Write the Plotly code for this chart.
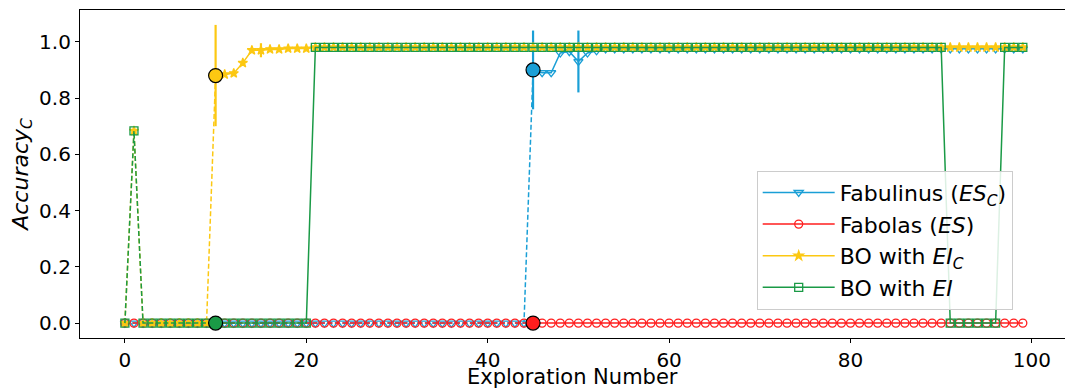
import plotly.graph_objects as go

# Exploration steps
exploration = list(range(100))

# Accuracy_C per exploration step
fabulinus = [
    0.0, 0.0, 0.0, 0.0, 0.0, 0.0, 0.0, 0.0, 0.0, 0.0,
    0.0, 0.0, 0.0, 0.0, 0.0, 0.0, 0.0, 0.0, 0.0, 0.0,
    0.0, 0.0, 0.0, 0.0, 0.0, 0.0, 0.0, 0.0, 0.0, 0.0,
    0.0, 0.0, 0.0, 0.0, 0.0, 0.0, 0.0, 0.0, 0.0, 0.0,
    0.0, 0.0, 0.0, 0.0, 0.0, 0.90, 0.89, 0.89, 0.96, 0.965,
    0.93, 0.96, 0.968, 0.975, 0.975, 0.975, 0.975, 0.975, 0.975, 0.975,
    0.975, 0.975, 0.975, 0.975, 0.975, 0.975, 0.975, 0.975, 0.975, 0.975,
    0.975, 0.975, 0.975, 0.975, 0.975, 0.975, 0.975, 0.975, 0.975, 0.975,
    0.975, 0.975, 0.975, 0.975, 0.975, 0.975, 0.975, 0.975, 0.975, 0.975,
    0.975, 0.975, 0.975, 0.975, 0.975, 0.975, 0.975, 0.975, 0.975, 0.975,
]
fabulinus_err = [0.0] * 45 + [0.14, 0.0, 0.0, 0.0, 0.0, 0.11] + [0.0] * 49

fabolas = [
    0.0, 0.0, 0.0, 0.0, 0.0, 0.0, 0.0, 0.0, 0.0, 0.0,
    0.0, 0.0, 0.0, 0.0, 0.0, 0.0, 0.0, 0.0, 0.0, 0.0,
    0.0, 0.0, 0.0, 0.0, 0.0, 0.0, 0.0, 0.0, 0.0, 0.0,
    0.0, 0.0, 0.0, 0.0, 0.0, 0.0, 0.0, 0.0, 0.0, 0.0,
    0.0, 0.0, 0.0, 0.0, 0.0, 0.0, 0.0, 0.0, 0.0, 0.0,
    0.0, 0.0, 0.0, 0.0, 0.0, 0.0, 0.0, 0.0, 0.0, 0.0,
    0.0, 0.0, 0.0, 0.0, 0.0, 0.0, 0.0, 0.0, 0.0, 0.0,
    0.0, 0.0, 0.0, 0.0, 0.0, 0.0, 0.0, 0.0, 0.0, 0.0,
    0.0, 0.0, 0.0, 0.0, 0.0, 0.0, 0.0, 0.0, 0.0, 0.0,
    0.0, 0.0, 0.0, 0.0, 0.0, 0.0, 0.0, 0.0, 0.0, 0.0,
]
fabolas_err = [0.0] * 100

bo_eic = [
    0.0, 0.683, 0.0, 0.0, 0.0, 0.0, 0.0, 0.0, 0.0, 0.0,
    0.88, 0.884, 0.888, 0.925, 0.97, 0.97, 0.973, 0.973, 0.976, 0.976,
    0.976, 0.98, 0.98, 0.98, 0.98, 0.98, 0.98, 0.98, 0.98, 0.98,
    0.98, 0.98, 0.98, 0.98, 0.98, 0.98, 0.98, 0.98, 0.98, 0.98,
    0.98, 0.98, 0.98, 0.98, 0.98, 0.98, 0.98, 0.98, 0.98, 0.98,
    0.98, 0.98, 0.98, 0.98, 0.98, 0.98, 0.98, 0.98, 0.98, 0.98,
    0.98, 0.98, 0.98, 0.98, 0.98, 0.98, 0.98, 0.98, 0.98, 0.98,
    0.98, 0.98, 0.98, 0.98, 0.98, 0.98, 0.98, 0.98, 0.98, 0.98,
    0.98, 0.98, 0.98, 0.98, 0.98, 0.98, 0.98, 0.98, 0.98, 0.98,
    0.98, 0.98, 0.98, 0.98, 0.98, 0.98, 0.98, 0.98, 0.98, 0.98,
]
bo_eic_err = [0.0] * 10 + [0.18, 0.0, 0.0, 0.0, 0.0, 0.025] + [0.0] * 84

bo_ei = [
    0.0, 0.683, 0.0, 0.0, 0.0, 0.0, 0.0, 0.0, 0.0, 0.0,
    0.0, 0.0, 0.0, 0.0, 0.0, 0.0, 0.0, 0.0, 0.0, 0.0,
    0.0, 0.98, 0.98, 0.98, 0.98, 0.98, 0.98, 0.98, 0.98, 0.98,
    0.98, 0.98, 0.98, 0.98, 0.98, 0.98, 0.98, 0.98, 0.98, 0.98,
    0.98, 0.98, 0.98, 0.98, 0.98, 0.98, 0.98, 0.98, 0.98, 0.98,
    0.98, 0.98, 0.98, 0.98, 0.98, 0.98, 0.98, 0.98, 0.98, 0.98,
    0.98, 0.98, 0.98, 0.98, 0.98, 0.98, 0.98, 0.98, 0.98, 0.98,
    0.98, 0.98, 0.98, 0.98, 0.98, 0.98, 0.98, 0.98, 0.98, 0.98,
    0.98, 0.98, 0.98, 0.98, 0.98, 0.98, 0.98, 0.98, 0.98, 0.98,
    0.98, 0.0, 0.0, 0.0, 0.0, 0.0, 0.0, 0.98, 0.98, 0.98,
]
bo_ei_err = [0.0] * 100

# (name, values, errors, start index of the guided search, colour, marker symbol, marker size)
series = [
    ("Fabulinus (<i>ES</i><sub><i>C</i></sub>)", fabulinus, fabulinus_err, 45,
     "#1a9fd6", "triangle-down-open", 8),
    ("Fabolas (<i>ES</i>)", fabolas, fabolas_err, 45,
     "#ff1e1e", "circle-open", 8),
    ("BO with <i>EI</i><sub><i>C</i></sub>", bo_eic, bo_eic_err, 10,
     "#fcc812", "star", 7),
    ("BO with <i>EI</i>", bo_ei, bo_ei_err, 10,
     "#1a9a46", "square-open", 8),
]

FONT = "DejaVu Sans"
fig = go.Figure()

for name, ys, errs, start, color, symbol, msize in series:
    marker = dict(symbol=symbol, size=msize, color=color, line=dict(color=color, width=1.3))
    # warm-up phase, dashed
    fig.add_trace(go.Scatter(
        x=exploration[:start + 1], y=ys[:start + 1], mode="lines+markers",
        line=dict(color=color, width=1.5, dash="5px,2.5px"),
        marker=marker, showlegend=False, hoverinfo="skip",
    ))
    # guided search phase, solid with error bars
    fig.add_trace(go.Scatter(
        x=exploration[start:], y=ys[start:], mode="lines+markers",
        line=dict(color=color, width=1.5),
        marker=marker, name=name,
        error_y=dict(type="data", array=errs[start:], visible=True,
                     color=color, thickness=2.2, width=0),
    ))

# highlighted start points
for name, ys, errs, start, color, symbol, msize in series:
    fig.add_trace(go.Scatter(
        x=[exploration[start]], y=[ys[start]], mode="markers",
        marker=dict(symbol="circle", size=14, color=color, line=dict(color="black", width=1.2)),
        showlegend=False, hoverinfo="skip",
    ))

axis_common = dict(
    showline=True, linecolor="black", linewidth=1.2, mirror=True,
    ticks="outside", ticklen=4, tickcolor="black", tickwidth=1,
    showgrid=False, zeroline=False,
    tickfont=dict(family=FONT, size=20, color="black"),
)

fig.update_layout(
    width=1065, height=388,
    margin=dict(l=80, r=0, t=10, b=50),
    paper_bgcolor="white", plot_bgcolor="white",
    font=dict(family=FONT, color="black"),
    xaxis=dict(
        range=[-4.95, 103.65], tickvals=[0, 20, 40, 60, 80, 100],
        **axis_common,
    ),
    yaxis=dict(
        range=[-0.053, 1.113], tickvals=[0.0, 0.2, 0.4, 0.6, 0.8, 1.0],
        tickformat=".1f",
        title=dict(text="<i>Accuracy</i><sub><i>C</i></sub>", font=dict(family=FONT, size=22), standoff=4),
        **axis_common,
    ),
    legend=dict(
        x=0.687, y=0.51, xanchor="left", yanchor="top",
        bgcolor="rgba(255,255,255,0.85)", bordercolor="#cccccc", borderwidth=1,
        font=dict(family=FONT, size=22, color="black"),
        itemwidth=72,
    ),
    annotations=[dict(
        text="Exploration Number", xref="paper", yref="paper", x=0.5, y=0,
        xanchor="center", yanchor="top", yshift=-25, showarrow=False,
        font=dict(family=FONT, size=21, color="black"),
    )],
)

fig.write_html("out.html")
